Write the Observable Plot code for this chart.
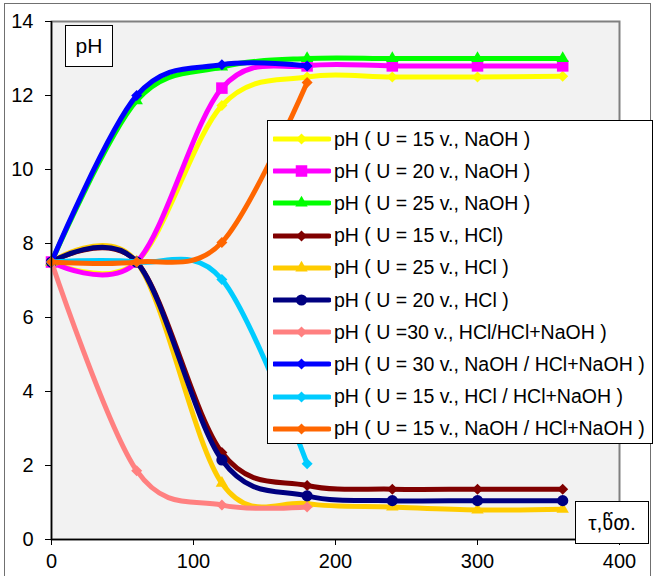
<!DOCTYPE html>
<html>
<head>
<meta charset="utf-8">
<script src="https://cdn.jsdelivr.net/npm/d3@7"></script>
<script src="https://cdn.jsdelivr.net/npm/@observablehq/plot@0.6"></script>
<style>
  body { margin: 0; background: #fff; font-family: "Liberation Sans", Arial, sans-serif; }
  #wrap { position: relative; width: 653px; height: 576px; overflow: hidden; }
  #outer { position: absolute; left: 4px; top: 3px; width: 645px; height: 620px; border: 1px solid #707070; }
  #chart { position: absolute; left: 0; top: 0; }
  .box { position: absolute; background: #fff; border: 1px solid #000; box-sizing: border-box; }
  #phbox { left: 65px; top: 25px; width: 48px; height: 42px; font-size: 21px; line-height: 40px; text-align: center; }
  #tbox { left: 575px; top: 501px; width: 74px; height: 43px; font-size: 21px; line-height: 41px; text-align: center;
          font-family: "Liberation Sans", "DejaVu Sans", sans-serif; }
  #legend { left: 267px; top: 120px; width: 386px; height: 324px; }
  .row { position: absolute; left: 5px; height: 26px; display: flex; align-items: center; white-space: nowrap; font-size: 19.5px; }
  .row svg { margin-right: 3px; }
</style>
</head>
<body>
<div id="wrap">
  <div id="outer"></div>
  <div id="chart"></div>
  <div class="box" id="phbox">pH</div>
  <div class="box" id="tbox">τ,წთ.</div>
  <div class="box" id="legend"></div>
</div>
<script>
// Sampling times, minutes
const times = [0, 60, 120, 180, 240, 300, 360];
const xTicks = [0, 100, 200, 300, 400];
const yTicks = [0, 2, 4, 6, 8, 10, 12, 14];

// pH readings per experiment
const ph_U15_NaOH = [7.5, 7.5, 11.73, 12.5, 12.5, 12.5, 12.52];
const ph_U20_NaOH = [7.5, 7.5, 12.2, 12.8, 12.8, 12.8, 12.8];
const ph_U25_NaOH = [7.5, 11.86, 12.77, 13.0, 13.0, 13.0, 13.0];
const ph_U15_HCl = [7.5, 7.5, 2.35, 1.46, 1.36, 1.36, 1.36];
const ph_U25_HCl = [7.5, 7.5, 1.52, 0.97, 0.88, 0.8, 0.82];
const ph_U20_HCl = [7.5, 7.5, 2.15, 1.18, 1.05, 1.05, 1.05];
const ph_U30_HCl_mix = [7.5, 1.86, 0.93, 0.88];
const ph_U30_NaOH_mix = [7.5, 12.0, 12.83, 12.8];
const ph_U15_HCl_mix = [7.5, 7.5, 7.03, 2.05];
const ph_U15_NaOH_mix = [7.5, 7.5, 8.03, 12.35];

const seriesLabels = [
  "pH ( U = 15 v., NaOH )",
  "pH ( U = 20 v., NaOH )",
  "pH ( U = 25 v., NaOH )",
  "pH ( U = 15 v., HCl)",
  "pH ( U = 25 v., HCl )",
  "pH ( U = 20 v., HCl )",
  "pH ( U =30 v., HCl/HCl+NaOH )",
  "pH ( U = 30 v., NaOH / HCl+NaOH )",
  "pH ( U = 15 v., HCl / HCl+NaOH )",
  "pH ( U = 15 v., NaOH / HCl+NaOH )"
];
const seriesValues = [ph_U15_NaOH, ph_U20_NaOH, ph_U25_NaOH, ph_U15_HCl, ph_U25_HCl,
  ph_U20_HCl, ph_U30_HCl_mix, ph_U30_NaOH_mix, ph_U15_HCl_mix, ph_U15_NaOH_mix];
const seriesColors = ["#FFFF00", "#FF00FF", "#00FF00", "#800000", "#FFCC00",
  "#000080", "#FF8080", "#0000FF", "#00CCFF", "#FF6600"];
const seriesMarkers = ["diamond", "square", "triangle", "diamond", "triangle",
  "circle", "diamond", "diamond", "diamond", "diamond"];
const markerRadius = { diamond: 5.5, square: 6.5, triangle: 4.6, circle: 5.6 };

// square rotated 45°, half-diagonal = r
const diamondSym = {
  draw(ctx, size) {
    const s = Math.sqrt(size / Math.PI);
    ctx.moveTo(0, -s); ctx.lineTo(s, 0); ctx.lineTo(0, s); ctx.lineTo(-s, 0); ctx.closePath();
  }
};
const symbolOf = { diamond: diamondSym, square: d3.symbolSquare, triangle: d3.symbolTriangle, circle: d3.symbolCircle };

const marks = [Plot.frame({ fill: "#F2F2F2", stroke: "#808080", strokeWidth: 2 })];
seriesValues.forEach((vals, k) => {
  const rows = vals.map((v, i) => ({ t: times[i], ph: v }));
  const m = seriesMarkers[k];
  marks.push(Plot.line(rows, { x: "t", y: "ph", stroke: seriesColors[k], strokeWidth: 5, curve: "cardinal" }));
  marks.push(Plot.dot(rows, { x: "t", y: "ph", fill: seriesColors[k], stroke: "none", symbol: symbolOf[m], r: markerRadius[m] }));
});
marks.push(
  Plot.ruleX([0], { stroke: "#000", strokeWidth: 1.5 }),
  Plot.ruleY([0], { stroke: "#000", strokeWidth: 1.5 }),
  Plot.axisY({ ticks: yTicks, tickSize: 6, tickPadding: 12, tickFormat: d => String(d), label: null }),
  Plot.axisX({ ticks: xTicks, tickSize: 6, tickPadding: 8, tickFormat: d => String(d), label: null })
);

const chart = Plot.plot({
  width: 653,
  height: 576,
  marginLeft: 51,
  marginRight: 34,
  marginTop: 21,
  marginBottom: 37,
  x: { domain: [0, 400], label: null },
  y: { domain: [0, 14], label: null },
  style: { fontSize: "20px", fontFamily: "'Liberation Sans', Arial, sans-serif", color: "#000", background: "transparent" },
  marks
});
document.getElementById("chart").appendChild(chart);

// legend entries: swatch line + marker, then label
const legend = document.getElementById("legend");
seriesLabels.forEach((label, k) => {
  const row = document.createElement("div");
  row.className = "row";
  row.style.top = (5 + k * 32.2) + "px";
  const m = seriesMarkers[k];
  const r = markerRadius[m];
  const svg = d3.create("svg").attr("width", 58).attr("height", 26);
  svg.append("line").attr("x1", 1).attr("x2", 56).attr("y1", 13).attr("y2", 13)
    .attr("stroke", seriesColors[k]).attr("stroke-width", 5).attr("stroke-linecap", "round");
  svg.append("path").attr("transform", "translate(28.5,13)")
    .attr("d", d3.symbol(symbolOf[m], r * r * Math.PI)()).attr("fill", seriesColors[k]);
  row.appendChild(svg.node());
  const span = document.createElement("span");
  span.textContent = label;
  row.appendChild(span);
  legend.appendChild(row);
});
</script>
</body>
</html>
